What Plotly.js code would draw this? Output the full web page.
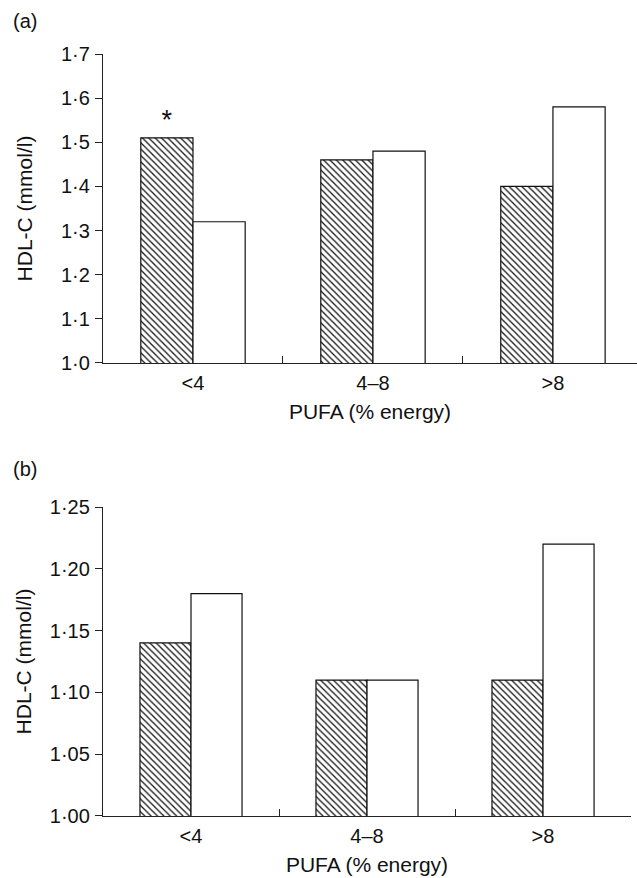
<!DOCTYPE html>
<html>
<head>
<meta charset="utf-8">
<script src="https://cdn.plot.ly/plotly-3.0.1.min.js"></script>
<style>html,body{margin:0;padding:0;background:#fff;}</style>
</head>
<body>
<div id="chart" style="width:637px;height:878px;"></div>
<script>
const categories = ["<4", "4\u20138", ">8"];
const panelA_hatched = [1.51, 1.46, 1.40];
const panelA_open = [1.32, 1.48, 1.58];
const panelA_marks = ["*", "", ""];
const panelB_hatched = [1.14, 1.11, 1.11];
const panelB_open = [1.18, 1.11, 1.22];
const yTicksA = [1.0, 1.1, 1.2, 1.3, 1.4, 1.5, 1.6, 1.7];
const yTicksB = [1.00, 1.05, 1.10, 1.15, 1.20, 1.25];

const FONT = "Liberation Sans, Arial, sans-serif";
const hatch = {shape: "\\", fgcolor: "#111", bgcolor: "#fff", size: 4.5, solidity: 0.28};
const outline = {color: "#111", width: 1.2};

const traces = [
  {type: "bar", x: categories, y: panelA_hatched, xaxis: "x", yaxis: "y",
   marker: {color: "#fff", pattern: hatch, line: outline},
   text: panelA_marks, textposition: "outside", cliponaxis: false,
   textfont: {family: FONT, size: 27, color: "#111"}, showlegend: false, hoverinfo: "y"},
  {type: "bar", x: categories, y: panelA_open, xaxis: "x", yaxis: "y",
   marker: {color: "#fff", line: outline}, showlegend: false, hoverinfo: "y"},
  {type: "bar", x: categories, y: panelB_hatched, xaxis: "x2", yaxis: "y2",
   marker: {color: "#fff", pattern: hatch, line: outline}, showlegend: false, hoverinfo: "y"},
  {type: "bar", x: categories, y: panelB_open, xaxis: "x2", yaxis: "y2",
   marker: {color: "#fff", line: outline}, showlegend: false, hoverinfo: "y"}
];

const xCommon = {
  type: "category", showline: true, linecolor: "#222", linewidth: 1.2,
  ticks: "inside", tickson: "boundaries", ticklen: 7, tickcolor: "#222",
  showgrid: false, zeroline: false, fixedrange: true,
  tickfont: {family: FONT, size: 20, color: "#111"}, ticklabelstandoff: 2
};
const yCommon = {
  showline: true, linecolor: "#222", linewidth: 1.2, ticks: "outside", ticklen: 7,
  tickcolor: "#222", showgrid: false, zeroline: false, fixedrange: true,
  tickfont: {family: FONT, size: 20, color: "#111"}, ticklabelstandoff: 1
};
const titleFont = {family: FONT, size: 21, color: "#111"};

const layout = {
  width: 637, height: 878,
  margin: {l: 103, r: 0, t: 54, b: 62},
  paper_bgcolor: "#fff", plot_bgcolor: "#fff",
  separators: "\u00b7,",
  barmode: "group", bargap: 0.42, bargroupgap: 0,
  font: {family: FONT, color: "#111"},
  xaxis: Object.assign({}, xCommon, {domain: [0, 1], anchor: "y", range: [-0.5, 2.467],
    title: {text: "PUFA (% energy)", font: titleFont, standoff: 11}}),
  yaxis: Object.assign({}, yCommon, {domain: [0.5945, 1], anchor: "x", range: [1.0, 1.7],
    tickvals: yTicksA, tickformat: ".1f",
    title: {text: "HDL-C (mmol/l)", font: titleFont, standoff: 22}}),
  xaxis2: Object.assign({}, xCommon, {domain: [0, 0.9888], anchor: "y2", range: [-0.5, 2.5],
    title: {text: "PUFA (% energy)", font: titleFont, standoff: 11}}),
  yaxis2: Object.assign({}, yCommon, {domain: [0, 0.4055], anchor: "x2", range: [1.0, 1.25],
    tickvals: yTicksB, tickformat: ".2f",
    title: {text: "HDL-C (mmol/l)", font: titleFont, standoff: 12}}),
  annotations: [
    {text: "(a)", xref: "paper", yref: "paper", x: -0.172, y: 1.043, xanchor: "left", yanchor: "middle",
     showarrow: false, font: {family: FONT, size: 20, color: "#111"}},
    {text: "(b)", xref: "paper", yref: "paper", x: -0.172, y: 0.456, xanchor: "left", yanchor: "middle",
     showarrow: false, font: {family: FONT, size: 20, color: "#111"}}
  ]
};

Plotly.newPlot("chart", traces, layout, {displayModeBar: false, staticPlot: true});
</script>
</body>
</html>
